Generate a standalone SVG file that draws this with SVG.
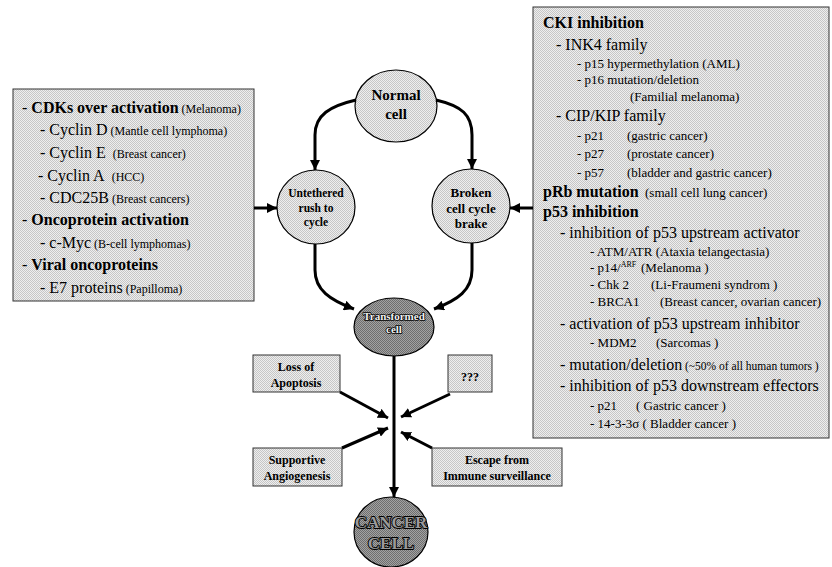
<svg xmlns="http://www.w3.org/2000/svg" width="832" height="567" viewBox="0 0 832 567">
<defs>
<pattern id="lt" width="2" height="2" patternUnits="userSpaceOnUse"><rect width="2" height="2" fill="#eeeeee"/><rect width="1" height="1" fill="#c6c6c6"/><rect x="1" y="1" width="1" height="1" fill="#c6c6c6"/></pattern>
<pattern id="dk" width="2" height="2" patternUnits="userSpaceOnUse"><rect width="2" height="2" fill="#a2a2a2"/><rect width="1" height="1" fill="#6e6e6e"/><rect x="1" y="1" width="1" height="1" fill="#6e6e6e"/></pattern>
<marker id="ah" viewBox="0 0 10 10" markerWidth="10" markerHeight="10" refX="10" refY="5" orient="auto" markerUnits="userSpaceOnUse"><path d="M0,0 L10,5 L0,10 z" fill="#000"/></marker>
</defs>
<style>
text{font-family:"Liberation Serif","Times New Roman",serif;fill:#000}
.b16{font-size:16px;font-weight:bold}
.r16{font-size:16px}
.r13{font-size:13px}
.p12{font-size:12px;font-weight:normal}
.box{fill:url(#lt);stroke:#333;stroke-width:1}
.lc{fill:url(#lt);stroke:#000;stroke-width:1.2}
.dc{fill:url(#dk);stroke:#000;stroke-width:1.2}
.ct{font-weight:bold;text-anchor:middle}
.tw{fill:#f2f2f2;stroke:#000;stroke-width:1.6;paint-order:stroke;stroke-linejoin:round}
.cw{fill:#9a9a9a;stroke:#000;stroke-width:1.8;paint-order:stroke;stroke-linejoin:round}
.conn path{fill:none;stroke:#000;stroke-width:3;marker-end:url(#ah)}
</style>

<g id="left-box">
<rect class="box" x="13" y="89" width="241" height="212"/>
<text class="r16" x="22" y="113">- <tspan class="b16">CDKs over activation</tspan><tspan class="p12"> (Melanoma)</tspan></text>
<text class="r16" x="40" y="135">- Cyclin D<tspan class="p12"> (Mantle cell lymphoma)</tspan></text>
<text class="r16" x="40" y="158">- Cyclin E<tspan class="p12" dx="4"> (Breast cancer)</tspan></text>
<text class="r16" x="38" y="181">- Cyclin A<tspan class="p12" dx="4"> (HCC)</tspan></text>
<text class="r16" x="40" y="203">- CDC25B<tspan class="p12"> (Breast cancers)</tspan></text>
<text class="r16" x="22" y="225">- <tspan class="b16">Oncoprotein activation</tspan></text>
<text class="r16" x="40" y="248">- c-Myc<tspan class="p12"> (B-cell lymphomas)</tspan></text>
<text class="r16" x="22" y="270">- <tspan class="b16">Viral oncoproteins</tspan></text>
<text class="r16" x="40" y="293">- E7 proteins<tspan class="p12"> (Papilloma)</tspan></text>
</g>

<g id="right-box">
<rect class="box" x="533" y="7" width="296" height="431"/>
<text class="b16" x="543" y="28">CKI inhibition</text>
<text class="r16" x="556" y="50">- INK4 family</text>
<text class="r13" x="577" y="68">- p15 hypermethylation (AML)</text>
<text class="r13" x="577" y="84">- p16 mutation/deletion</text>
<text class="r13" x="630" y="101">(Familial melanoma)</text>
<text class="r16" x="556" y="121">- CIP/KIP family</text>
<text class="r13" x="577" y="140">- p21</text><text class="r13" x="627" y="140">(gastric cancer)</text>
<text class="r13" x="577" y="158">- p27</text><text class="r13" x="627" y="158">(prostate cancer)</text>
<text class="r13" x="577" y="177">- p57</text><text class="r13" x="627" y="177">(bladder and gastric cancer)</text>
<text class="b16" x="543" y="197">pRb mutation</text><text class="r13" x="645" y="197">(small cell lung cancer)</text>
<text class="b16" x="543" y="217">p53 inhibition</text>
<text class="r16" x="560" y="238">- inhibition of p53 upstream activator</text>
<text class="r13" x="590" y="256">- ATM/ATR (Ataxia telangectasia)</text>
<text class="r13" x="590" y="272">- p14/<tspan font-size="8" dy="-5">ARF</tspan></text><text class="r13" x="641" y="272">(Melanoma )</text>
<text class="r13" x="590" y="289">- Chk 2</text><text class="r13" x="651" y="289">(Li-Fraumeni syndrom )</text>
<text class="r13" x="590" y="306">- BRCA1</text><text class="r13" x="660" y="306">(Breast cancer, ovarian cancer)</text>
<text class="r16" x="560" y="329">- activation of p53 upstream inhibitor</text>
<text class="r13" x="590" y="347">- MDM2</text><text class="r13" x="656" y="347">(Sarcomas )</text>
<text class="r16" x="560" y="370">- mutation/deletion</text><text x="685" y="370" font-size="11.5">(~50% of all human tumors )</text>
<text class="r16" x="560" y="391">- inhibition of p53 downstream effectors</text>
<text class="r13" x="590" y="410">- p21</text><text class="r13" x="636" y="410">( Gastric cancer )</text>
<text class="r13" x="590" y="428">- 14-3-3σ ( Bladder cancer )</text>
</g>

<g id="normal-cell">
<ellipse class="lc" cx="396" cy="106" rx="41" ry="36"/>
<text class="ct" x="396" y="100" font-size="15">Normal</text>
<text class="ct" x="396" y="119" font-size="15">cell</text>
</g>
<g id="untethered">
<ellipse class="lc" cx="316" cy="207" rx="39" ry="37"/>
<text class="ct" x="316" y="197" font-size="11.5">Untethered</text>
<text class="ct" x="316" y="212" font-size="11.5">rush to</text>
<text class="ct" x="316" y="226" font-size="11.5">cycle</text>
</g>
<g id="broken">
<ellipse class="lc" cx="471" cy="206" rx="39" ry="37"/>
<text class="ct" x="471" y="197" font-size="13">Broken</text>
<text class="ct" x="471" y="213" font-size="13">cell cycle</text>
<text class="ct" x="471" y="228" font-size="13">brake</text>
</g>
<g id="transformed">
<ellipse class="dc" cx="394" cy="327" rx="40" ry="29"/>
<text class="ct tw" x="394" y="320" font-size="11">Transformed</text>
<text class="ct tw" x="394" y="333" font-size="11">cell</text>
</g>
<g id="cancer">
<ellipse class="dc" cx="391" cy="532" rx="37" ry="35"/>
<text class="ct cw" x="391" y="528" font-size="17">CANCER</text>
<text class="ct cw" x="391" y="549" font-size="17">CELL</text>
</g>
<g id="loss">
<rect class="box" x="253" y="355" width="87" height="37"/>
<text class="ct" x="296" y="371" font-size="12">Loss of</text>
<text class="ct" x="296" y="387" font-size="12">Apoptosis</text>
</g>
<g id="unknown">
<rect class="box" x="448" y="355" width="44" height="37"/>
<text class="ct" x="470" y="381" font-size="12">???</text>
</g>
<g id="angio">
<rect class="box" x="253" y="448" width="89" height="38"/>
<text class="ct" x="297" y="464" font-size="12">Supportive</text>
<text class="ct" x="297" y="480" font-size="12">Angiogenesis</text>
</g>
<g id="immune">
<rect class="box" x="432" y="448" width="130" height="38"/>
<text class="ct" x="497" y="464" font-size="12">Escape from</text>
<text class="ct" x="497" y="480" font-size="12">Immune surveillance</text>
</g>

<g id="connectors" class="conn">
<path d="M254,208 L277,208"/>
<path d="M533,208 L510,208"/>
<path d="M356,100 C330,106 315,115 315,135 L315,170"/>
<path d="M436,100 C462,106 472,115 472,135 L472,169"/>
<path d="M315,244 L315,270 C315,290 330,300 354,309"/>
<path d="M472,243 L472,270 C472,290 458,300 434,309"/>
<path d="M394,356 L394,497"/>
<path d="M340,392 L388,418"/>
<path d="M450,394 L401,417"/>
<path d="M342,448 L388,428"/>
<path d="M432,448 L401,432"/>
</g>
</svg>
